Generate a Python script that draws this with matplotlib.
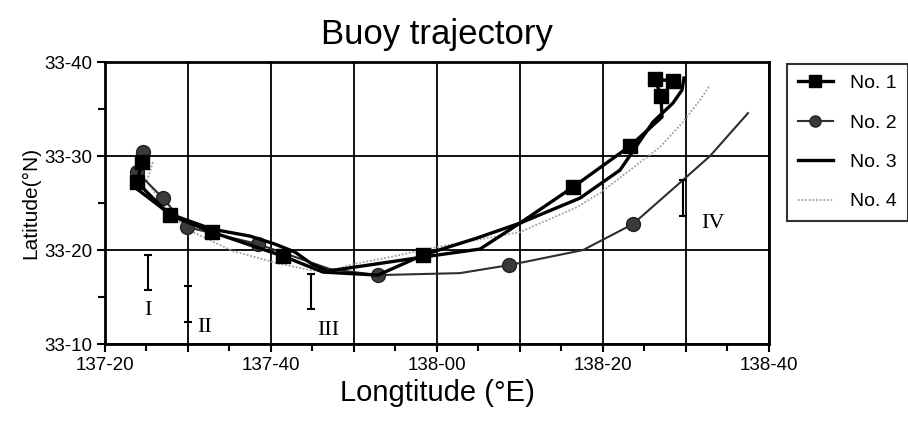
"""Buoy trajectory chart (minutes past 137E / 33N)."""

import matplotlib

matplotlib.use("Agg")
import matplotlib.pyplot as plt
from matplotlib.ticker import MultipleLocator

plt.rcParams["font.family"] = ["Liberation Sans", "DejaVu Sans"]

# longitude in minutes past 137-00 E, latitude in minutes past 33-00 N
no1_lon = [24.46, 23.86, 27.83, 32.89, 41.45, 46.27, 52.89, 58.31, 64.82, 70.0,
           76.39, 83.25, 87.11, 86.99, 86.27, 88.43]
no1_lat = [29.36, 27.23, 23.72, 21.91, 19.36, 17.66, 17.34, 19.47, 21.28, 22.87,
           26.70, 31.06, 34.15, 36.38, 38.19, 37.98]
no1_marked = [0, 1, 2, 3, 4, 7, 10, 11, 13, 14, 15]

no2_lon = [24.58, 23.86, 26.99, 29.88, 38.43, 47.11, 52.89, 62.77, 68.67, 77.59,
           83.61, 89.64, 92.89, 97.47]
no2_lat = [30.43, 28.30, 25.53, 22.45, 20.64, 17.98, 17.34, 17.55, 18.40, 20.0,
           22.77, 27.45, 30.0, 34.57]
no2_marked = [0, 1, 2, 3, 4, 6, 8, 10]

no3_lon = [23.25, 27.83, 32.89, 37.47, 40.48, 42.89, 44.94, 46.87, 58.31, 65.18,
           70.0, 77.23, 82.05, 86.02, 88.43, 89.52, 89.76]
no3_lat = [26.91, 23.83, 22.23, 21.49, 20.64, 19.79, 18.51, 17.77, 19.26, 20.11,
           22.87, 25.53, 28.51, 33.62, 35.64, 37.02, 38.30]

no4_lon = [25.78, 25.06, 27.83, 30.84, 35.42, 40.72, 44.70, 47.11, 49.88, 53.13,
           60.0, 70.0, 76.87, 79.64, 83.25, 86.87, 89.64, 91.69, 92.89]
no4_lat = [29.36, 27.34, 23.72, 21.81, 19.89, 18.62, 17.87, 17.77, 18.51, 19.04,
           20.32, 21.91, 24.57, 26.06, 28.51, 30.96, 33.62, 35.96, 37.55]

# latitude ranges I-IV
range_names = ["I", "II", "III", "IV"]
range_lon = [25.18, 30.0, 44.82, 89.64]
range_lo = [15.74, 12.34, 13.72, 23.62]
range_hi = [19.47, 16.17, 17.45, 27.45]

x_ticks = [20, 30, 40, 50, 60, 70, 80, 90, 100]
x_tick_labels = ["137-20", "", "137-40", "", "138-00", "", "138-20", "", "138-40"]
y_ticks = [10, 20, 30, 40]
y_tick_labels = ["33-10", "33-20", "33-30", "33-40"]


fig = plt.figure(figsize=(9.08, 4.28), dpi=100)
ax = fig.add_axes([0.1156, 0.196, 0.7313, 0.659])

ax.plot(no1_lon, no1_lat, color="black", linewidth=2.4, marker="s",
        markersize=10, markevery=no1_marked, label="No. 1", zorder=4)
ax.plot(no2_lon, no2_lat, color="#2e2e2e", linewidth=1.5, marker="o",
        markersize=10, markevery=no2_marked, markerfacecolor="#3a3a3a",
        markeredgecolor="#222222", label="No. 2", zorder=3)
ax.plot(no3_lon, no3_lat, color="black", linewidth=2.4, label="No. 3", zorder=4)
ax.plot(no4_lon, no4_lat, color="#a0a0a0", linewidth=1.3, linestyle=(0, (1, 1)),
        label="No. 4", zorder=2)

centers = [(lo + hi) / 2 for lo, hi in zip(range_lo, range_hi)]
halves = [(hi - lo) / 2 for lo, hi in zip(range_lo, range_hi)]
ax.errorbar(range_lon, centers, yerr=halves, fmt="none", ecolor="black",
            elinewidth=1.5, capsize=3, capthick=1.5, zorder=5)

label_offsets = [(0.0, -2.2), (2.05, -0.6), (2.05, -2.3), (3.6, -0.75)]
for name, lon, lo, (dx, dy) in zip(range_names, range_lon, range_lo, label_offsets):
    ax.text(lon + dx, lo + dy, name, ha="center", va="center", fontsize=16,
            family=["Liberation Serif", "DejaVu Serif"])

ax.set_xlim(20, 100)
ax.set_ylim(10, 40)
ax.set_xticks(x_ticks)
ax.set_xticklabels(x_tick_labels)
ax.set_yticks(y_ticks)
ax.set_yticklabels(y_tick_labels)
ax.xaxis.set_minor_locator(MultipleLocator(5))
ax.yaxis.set_minor_locator(MultipleLocator(5))
ax.tick_params(which="both", direction="out", width=1.5, labelsize=13.5)
ax.tick_params(which="major", length=6, pad=3)
ax.tick_params(which="minor", length=5)
ax.grid(True, which="major", color="black", linewidth=1.3)
ax.set_axisbelow(True)
for spine in ax.spines.values():
    spine.set_linewidth(2)

ax.set_title("Buoy trajectory", fontsize=25, pad=13)
ax.set_xlabel("Longtitude (°E)", fontsize=21, labelpad=4)
ax.set_ylabel("Latitude(°N)", fontsize=15, labelpad=3)

leg = fig.legend(loc="upper left", bbox_to_anchor=(787 / 908, 1 - 64 / 428),
                 fontsize=14, frameon=True, fancybox=False, edgecolor="black",
                 handlelength=1.8, handletextpad=0.9, labelspacing=1.12,
                 borderpad=0.55, borderaxespad=0)
leg.get_frame().set_linewidth(1.5)
for handle in leg.legend_handles:
    handle.set_markersize(8)

fig.savefig("out.png", dpi=100)
